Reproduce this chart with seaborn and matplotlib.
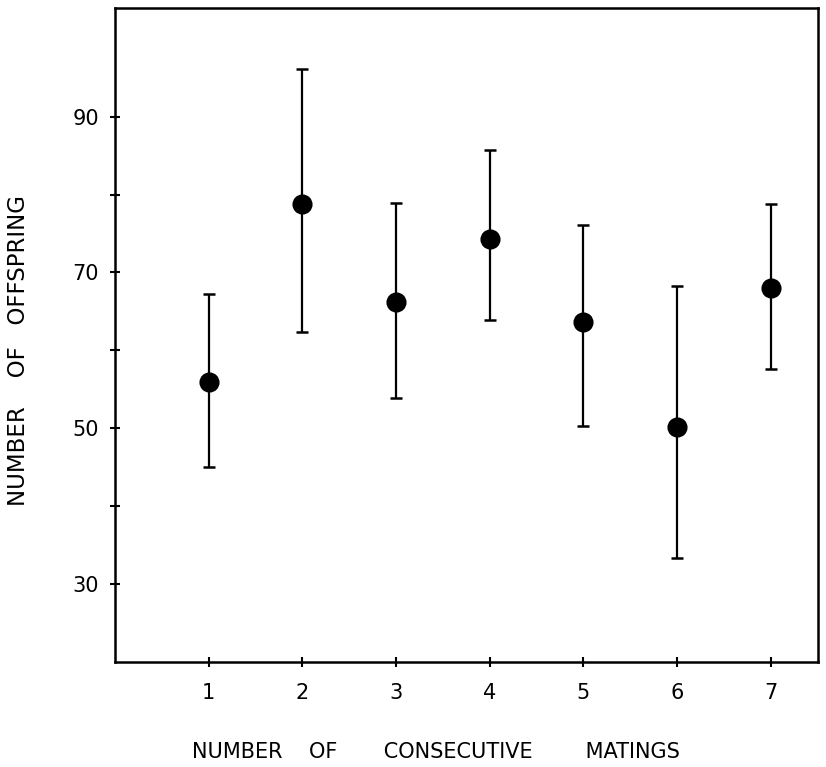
import matplotlib
matplotlib.use("Agg")
import matplotlib.pyplot as plt
import seaborn as sns
import pandas as pd

matings = [1, 2, 3, 4, 5, 6, 7]
offspring_mean = [56.0, 78.8, 66.2, 74.3, 63.6, 50.2, 68.0]
err_upper = [67.3, 96.1, 78.9, 85.7, 76.1, 68.3, 78.8]
err_lower = [45.0, 62.3, 53.9, 63.9, 50.3, 33.3, 57.6]
y_major = [30, 50, 70, 90]
y_minor = [40, 60, 80]

df = pd.DataFrame({"matings": matings, "offspring": offspring_mean})

sns.set_theme(style="white")
plt.rcParams["font.family"] = ["DejaVu Sans"]

fig = plt.figure(figsize=(8.26, 7.67), dpi=100)
ax = fig.add_axes([0.139, 0.137, 0.851, 0.853])

yerr = [[m - lo for m, lo in zip(offspring_mean, err_lower)],
        [hi - m for m, hi in zip(offspring_mean, err_upper)]]
ax.errorbar(matings, offspring_mean, yerr=yerr, fmt="none", ecolor="black",
            elinewidth=1.6, capsize=4.5, capthick=1.8, zorder=2)
sns.scatterplot(data=df, x="matings", y="offspring", ax=ax, s=180,
                color="black", edgecolor="black", zorder=3, legend=False)

ax.set_xlim(0, 7.5)
ax.set_ylim(20, 104)
ax.set_xticks(matings)
ax.set_xticklabels([str(m) for m in matings])
ax.set_yticks(y_major)
ax.set_yticklabels([str(v) for v in y_major])
ax.set_yticks(y_minor, minor=True)

ax.tick_params(axis="both", which="both", direction="inout", length=7,
               width=1.5, color="black", labelsize=15, labelcolor="black",
               left=True, bottom=True)
ax.tick_params(axis="y", which="major", pad=8)
ax.tick_params(axis="x", which="major", pad=12)

for sp in ax.spines.values():
    sp.set_visible(True)
    sp.set_color("black")
    sp.set_linewidth(1.8)

ax.set_xlabel("NUMBER    OF       CONSECUTIVE        MATINGS", fontsize=15,
              color="black")
ax.xaxis.set_label_coords(0.457, -0.122)
ax.set_ylabel("NUMBER    OF   OFFSPRING", fontsize=16.5, color="black")
ax.yaxis.set_label_coords(-0.121, 0.476)

fig.savefig("out.png", dpi=100, facecolor="white")
